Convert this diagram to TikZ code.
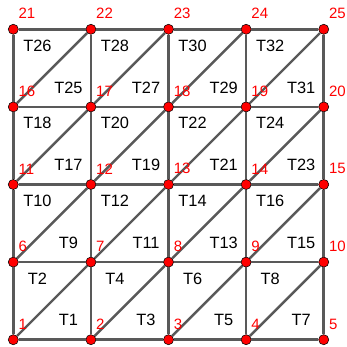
\documentclass[tikz,border=0pt]{standalone}
\usepackage{fontspec}
\setmainfont{Liberation Sans}
\definecolor{edgegray}{HTML}{595959}
\begin{document}
\begin{tikzpicture}[scale=2,
        pt/.style={circle, fill=red, draw=black, line width=0.4pt, inner sep=0pt, minimum size=0.26cm},
        edge/.style={draw=edgegray, line width=1.8pt},
        num/.style={text=red, font=\fontsize{11}{13}\selectfont, anchor=south west, inner sep=0pt, xshift=3.7pt, yshift=7.4pt},
        tri/.style={font=\fontsize{12}{14}\selectfont, inner sep=0pt}]
        \useasboundingbox (-0.1715,-0.094) rectangle (4.2875,4.3775);
        % vertices
        \foreach \j in {0,...,4} {
            \foreach \i in {0,...,4} {
                \pgfmathtruncatemacro{\n}{5*\j+\i+1}
                \node[pt] (p\n) at (\i,\j) {};
            }
        }
        % horizontal and vertical edges
        \foreach \j in {0,...,4} {
            \foreach \i in {0,...,3} {
                \pgfmathtruncatemacro{\n}{5*\j+\i+1}
                \pgfmathtruncatemacro{\m}{\n+1}
                \draw[edge] (p\n) -- (p\m);
            }
        }
        \foreach \j in {0,...,3} {
            \foreach \i in {0,...,4} {
                \pgfmathtruncatemacro{\n}{5*\j+\i+1}
                \pgfmathtruncatemacro{\m}{\n+5}
                \draw[edge] (p\n) -- (p\m);
            }
        }
        % diagonals
        \foreach \j in {0,...,3} {
            \foreach \i in {0,...,3} {
                \pgfmathtruncatemacro{\n}{5*\j+\i+1}
                \pgfmathtruncatemacro{\m}{\n+6}
                \draw[edge] (p\n) -- (p\m);
            }
        }
        % vertex numbers
        \foreach \n in {1,...,25} {
            \node[num] (l\n) at (p\n) {\n};
        }
        % triangle names
        \foreach \j in {0,...,3} {
            \foreach \i in {0,...,3} {
                \pgfmathtruncatemacro{\a}{8*\j+2*\i+1}
                \pgfmathtruncatemacro{\b}{\a+1}
                \node[tri] (t\a) at (\i+0.71,\j+0.25) {T\a};
                \node[tri] (t\b) at (\i+0.31,\j+0.79) {T\b};
            }
        }
    \end{tikzpicture}
\end{document}
